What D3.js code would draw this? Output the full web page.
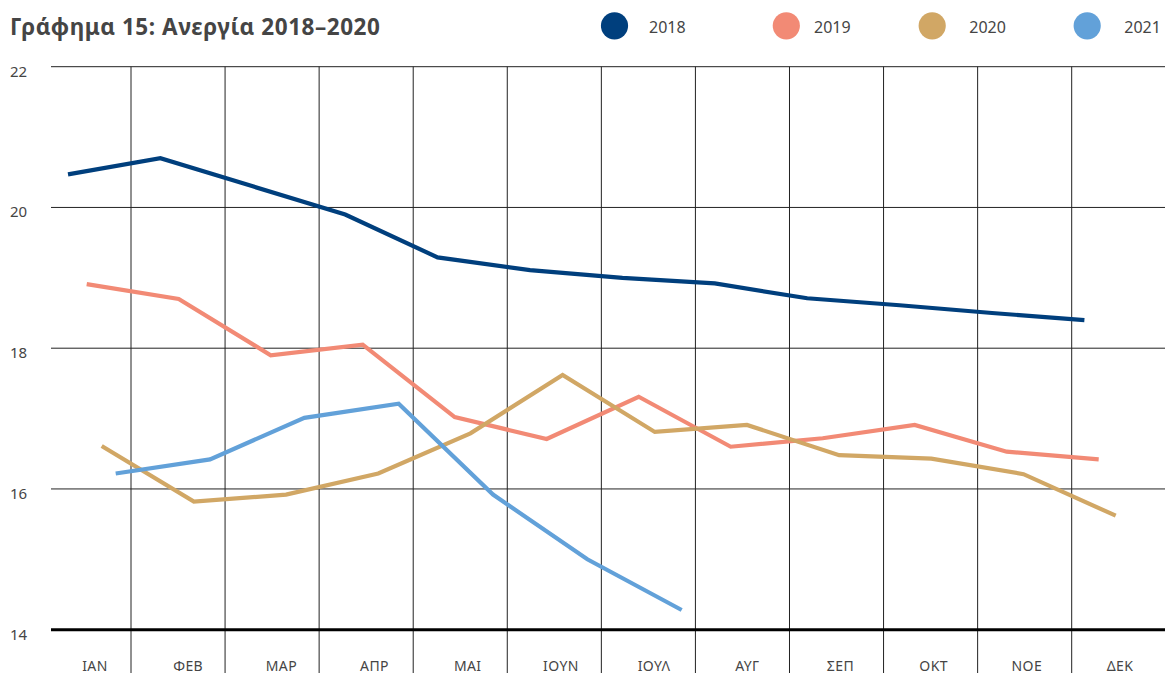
<!DOCTYPE html>
<html>
<head>
<meta charset="utf-8">
<script src="https://cdn.jsdelivr.net/npm/d3@7"></script>
<style>
  html, body { margin: 0; padding: 0; background: #fff; }
  svg { display: block; }
  text { font-family: "Noto Sans", "DejaVu Sans", sans-serif; }
</style>
</head>
<body>
<svg id="chart" width="1165" height="673"></svg>
<script>
// ---- data ----
const title = "Γράφημα 15: Ανεργία 2018–2020";
const months = ["ΙΑΝ","ΦΕΒ","ΜΑΡ","ΑΠΡ","ΜΑΙ","ΙΟΥΝ","ΙΟΥΛ","ΑΥΓ","ΣΕΠ","ΟΚΤ","ΝΟΕ","ΔΕΚ"];
const years = ["2018","2019","2020","2021"];
const values2018 = [20.47, 20.70, 20.30, 19.90, 19.29, 19.11, 19.00, 18.92, 18.71, 18.61, 18.50, 18.40];
const values2019 = [18.91, 18.70, 17.90, 18.05, 17.02, 16.71, 17.31, 16.60, 16.72, 16.91, 16.53, 16.42];
const values2020 = [16.61, 15.82, 15.92, 16.22, 16.79, 17.62, 16.81, 16.91, 16.48, 16.43, 16.21, 15.62];
const values2021 = [16.22, 16.42, 17.01, 17.21, 15.92, 15.00, 14.28];
const yTicks = [14, 16, 18, 20, 22];

// ---- styling / layout ----
const colors = ["#003f7d", "#f28a75", "#d1a765", "#62a1d9"];
const seriesValues = [values2018, values2019, values2020, values2021];
const seriesRanges = [[68, 1084.4], [86.7, 1098.7], [101.7, 1115.7], [115.7, 1153.3]];
const legendCircleX = [614.5, 786.3, 932.2, 1087.2];
const legendTextX = [649, 814, 969.3, 1124.3];
const textColor = "#454545";

const svg = d3.select("#chart");
const W = 1165, H = 673;
const left = 51, right = 1165;

const y = d3.scaleLinear().domain([14, 22]).range([629.7, 66.7]);
const xLabel = d3.scalePoint().domain(months).range([95, 1120]);
const xBand = d3.scaleBand().domain(months).range([36.93, 36.93 + 12 * 94.07]);

// horizontal grid lines
svg.append("g").selectAll("line")
  .data(yTicks.filter(t => t !== 14))
  .join("line")
  .attr("x1", left).attr("x2", right)
  .attr("y1", d => y(d)).attr("y2", d => y(d))
  .attr("stroke", "#222").attr("stroke-width", 1);

// vertical grid lines at band boundaries
svg.append("g").selectAll("line")
  .data(months.slice(1))
  .join("line")
  .attr("x1", d => xBand(d)).attr("x2", d => xBand(d))
  .attr("y1", y(22)).attr("y2", H)
  .attr("stroke", "#222").attr("stroke-width", 1);

// baseline
svg.append("line")
  .attr("x1", left).attr("x2", right)
  .attr("y1", y(14)).attr("y2", y(14))
  .attr("stroke", "#000").attr("stroke-width", 3);

// y tick labels
svg.append("g").selectAll("text")
  .data(yTicks)
  .join("text")
  .attr("x", 10)
  .attr("y", d => y(d) + 10)
  .attr("font-size", 15)
  .attr("fill", textColor)
  .text(d => d);

// x labels
svg.append("g").selectAll("text")
  .data(months)
  .join("text")
  .attr("x", d => xLabel(d))
  .attr("y", 670.5)
  .attr("text-anchor", "middle")
  .attr("font-size", 14)
  .attr("letter-spacing", 0.4)
  .attr("fill", textColor)
  .text(d => d);

// lines
seriesValues.forEach((vals, i) => {
  const xs = d3.scalePoint().domain(months).range(seriesRanges[i]);
  const line = d3.line()
    .x((d, j) => xs(months[j]))
    .y(d => y(d));
  svg.append("path")
    .datum(vals)
    .attr("d", line)
    .attr("fill", "none")
    .attr("stroke", colors[i])
    .attr("stroke-width", 4.2)
    .attr("stroke-linejoin", "miter");
});

// title
svg.append("text")
  .attr("x", 10).attr("y", 35)
  .attr("font-size", 22.5)
  .attr("font-weight", "bold")
  .attr("letter-spacing", 0.55)
  .attr("fill", textColor)
  .text(title);

// legend
const lg = svg.append("g");
years.forEach((yr, i) => {
  lg.append("circle")
    .attr("cx", legendCircleX[i]).attr("cy", 25.8).attr("r", 13.6)
    .attr("fill", colors[i]);
  lg.append("text")
    .attr("x", legendTextX[i]).attr("y", 32.5)
    .attr("font-size", 16)
    .attr("fill", textColor)
    .text(yr);
});
</script>
</body>
</html>
